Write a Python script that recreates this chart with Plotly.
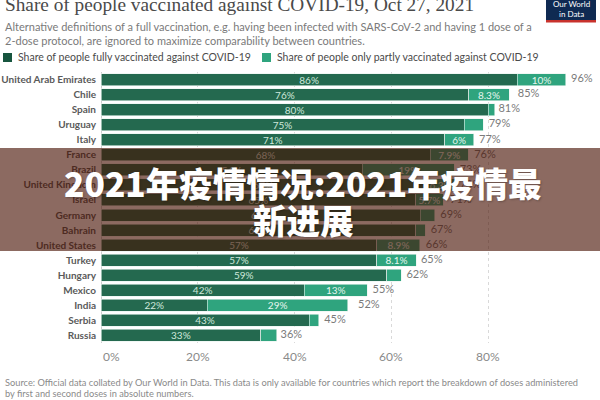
import plotly.graph_objects as go

countries = ["United Arab Emirates", "Chile", "Spain", "Uruguay", "Italy", "France", "Brazil",
             "United Kingdom", "Israel", "Germany", "Bahrain", "United States", "Turkey",
             "Hungary", "Mexico", "India", "Serbia", "Russia"]
fully = [86, 76, 80, 75, 71, 68, 54, 67, 65, 66, 65, 57, 57, 59, 42, 22, 43, 33]
partly = [10, 8.3, 1.4, 4, 6, 7.9, 19, 6.3, 5.7, 3, 2, 8.9, 8.1, 3, 13, 29, 2, 3.3]
totals = [96, 85, 81, 79, 77, 76, 73, 73, 71, 69, 67, 66, 65, 62, 55, 52, 45, 36]
fully_labels = ["86%", "76%", "80%", "75%", "71%", "68%", "54%", "67%", "65%", "66%", "65%",
                "57%", "57%", "59%", "42%", "22%", "43%", "33%"]
partly_labels = ["10%", "8.3%", "", "", "6%", "7.9%", "19%", "6.3%", "5.7%", "", "",
                 "8.9%", "8.1%", "", "13%", "29%", "", ""]
total_labels = [f"{t}%" for t in totals]
ticks = [0, 20, 40, 60, 80]
tick_labels = ["0%", "20%", "40%", "60%", "80%"]

title = "Share of people vaccinated against COVID-19, Oct 27, 2021"
subtitle1 = "Alternative definitions of a full vaccination, e.g. having been infected with SARS-CoV-2 and having 1 dose of a"
subtitle2 = "2-dose protocol, are ignored to maximize comparability between countries."
legend_names = ["Share of people fully vaccinated against COVID-19",
                "Share of people only partly vaccinated against COVID-19"]
source1 = "Source: Official data collated by Our World in Data. This data is only available for countries which report the breakdown of doses administered"
source2 = "by first and second doses in absolute numbers."
overlay_line1 = "2021年疫情情况:2021年疫情最"
overlay_line2 = "新进展"

DARK = "#24694f"
LIGHT = "#2fa47e"
SANS = "Lato, 'Liberation Sans', Arial, sans-serif"

W, H = 600, 400
L, R, T, B = 101, 15, 72, 57
PW, PH = W - L - R, H - T - B


def xp(px):
    return (px - L) / PW


def yp(py):
    return (H - B - py) / PH


fig = go.Figure()
fig.add_trace(go.Bar(
    y=countries, x=fully, orientation="h", name=legend_names[0],
    marker=dict(color=DARK, line=dict(color="#e8f4ee", width=0.6)),
    text=fully_labels, textposition="inside", insidetextanchor="middle",
    textfont=dict(color="#cfe8db", size=10, family=SANS), showlegend=False,
    hoverinfo="skip"))
fig.add_trace(go.Bar(
    y=countries, x=partly, orientation="h", name=legend_names[1],
    marker=dict(color=LIGHT, line=dict(color="#e8f4ee", width=0.6)),
    text=partly_labels, textposition="inside", insidetextanchor="middle",
    textfont=dict(color="#e6f6ee", size=10, family=SANS), showlegend=False,
    hoverinfo="skip"))
fig.add_trace(go.Scatter(
    y=countries, x=totals, mode="markers+text", text=total_labels,
    marker=dict(size=7, opacity=0),
    textposition="middle right", textfont=dict(color="#7a7a7a", size=11, family=SANS),
    showlegend=False, hoverinfo="skip", cliponaxis=False))

fig.update_layout(
    width=W, height=H, barmode="stack", bargap=0.2,
    margin=dict(l=L, r=R, t=T, b=B, autoexpand=False),
    paper_bgcolor="white", plot_bgcolor="white",
    uniformtext=dict(minsize=8, mode="show"),
    xaxis=dict(range=[0, 100], tickvals=ticks, showticklabels=False, showgrid=True,
               gridcolor="#d9d9d9", griddash="dot", gridwidth=1, zeroline=True,
               zerolinecolor="#cfcfcf", zerolinewidth=1, fixedrange=True, automargin=False),
    yaxis=dict(range=[len(countries) - 0.5, -0.5], ticks="", showgrid=False, zeroline=False,
               tickfont=dict(color="#5a5a5a", size=10, family=SANS, weight="bold"),
               ticklabelstandoff=4, automargin=False),
)

ann = []
shapes = []
# title
ann.append(dict(text=title, x=xp(3), y=yp(4), xref="paper", yref="paper", xanchor="left",
                yanchor="middle", showarrow=False,
                font=dict(family="'Liberation Serif', 'DejaVu Serif', serif", size=19.3, color="#4a4a4a")))
ann.append(dict(text=subtitle1, x=xp(3), y=yp(26), xref="paper", yref="paper", xanchor="left",
                yanchor="middle", showarrow=False, font=dict(family=SANS, size=11, color="#7a7a7a")))
ann.append(dict(text=subtitle2, x=xp(3), y=yp(40), xref="paper", yref="paper", xanchor="left",
                yanchor="middle", showarrow=False, font=dict(family=SANS, size=11, color="#7a7a7a")))
# legend
for sx, col, name in [(3, "#17553f", legend_names[0]), (262, LIGHT, legend_names[1])]:
    shapes.append(dict(type="rect", xref="paper", yref="paper", x0=xp(sx), x1=xp(sx + 9),
                       y0=yp(62), y1=yp(53), fillcolor=col, line=dict(width=0), layer="above"))
    ann.append(dict(text=name, x=xp(sx + 13), y=yp(57.5), xref="paper", yref="paper",
                    xanchor="left", yanchor="middle", showarrow=False,
                    font=dict(family=SANS, size=10.5, color="#4a4a4a")))
# logo
shapes.append(dict(type="rect", xref="paper", yref="paper", x0=xp(546), x1=xp(596),
                   y0=yp(20), y1=yp(-2), fillcolor="#0f2a52", line=dict(width=0), layer="above"))
shapes.append(dict(type="rect", xref="paper", yref="paper", x0=xp(546), x1=xp(596),
                   y0=yp(22.5), y1=yp(20), fillcolor="#c8322c", line=dict(width=0), layer="above"))
ann.append(dict(text="Our World<br>in Data", x=xp(571), y=yp(9), xref="paper", yref="paper",
                xanchor="center", yanchor="middle", showarrow=False,
                font=dict(family=SANS, size=8, color="white")))
# x tick labels
for v, lab in zip(ticks, tick_labels):
    ann.append(dict(text=lab, x=v, xref="x", y=yp(356.5), yref="paper",
                    xanchor="left" if v == 0 else "center", yanchor="middle", showarrow=False,
                    font=dict(family=SANS, size=12, color="#8a8a8a")))
# source
ann.append(dict(text=source1, x=xp(3), y=yp(382), xref="paper", yref="paper", xanchor="left",
                yanchor="middle", showarrow=False, font=dict(family=SANS, size=9.25, color="#8a8a8a")))
ann.append(dict(text=source2, x=xp(3), y=yp(393.5), xref="paper", yref="paper", xanchor="left",
                yanchor="middle", showarrow=False, font=dict(family=SANS, size=9.25, color="#8a8a8a")))
# overlay band
shapes.append(dict(type="rect", xref="paper", yref="paper", x0=xp(-2), x1=xp(602),
                   y0=yp(251), y1=yp(148), fillcolor="rgba(70,14,0,0.62)",
                   line=dict(width=0), layer="above"))
for txt, cy in [(overlay_line1, 182), (overlay_line2, 220)]:
    ann.append(dict(text=txt, x=xp(303), y=yp(cy), xref="paper", yref="paper",
                    xanchor="center", yanchor="middle", showarrow=False,
                    font=dict(family="'Noto Sans CJK SC'", size=33.6, color="white", weight=900,
                              shadow="1px 1px 2px rgba(0,0,0,0.25)")))

fig.update_layout(annotations=ann, shapes=shapes)
fig.write_html("out.html")
